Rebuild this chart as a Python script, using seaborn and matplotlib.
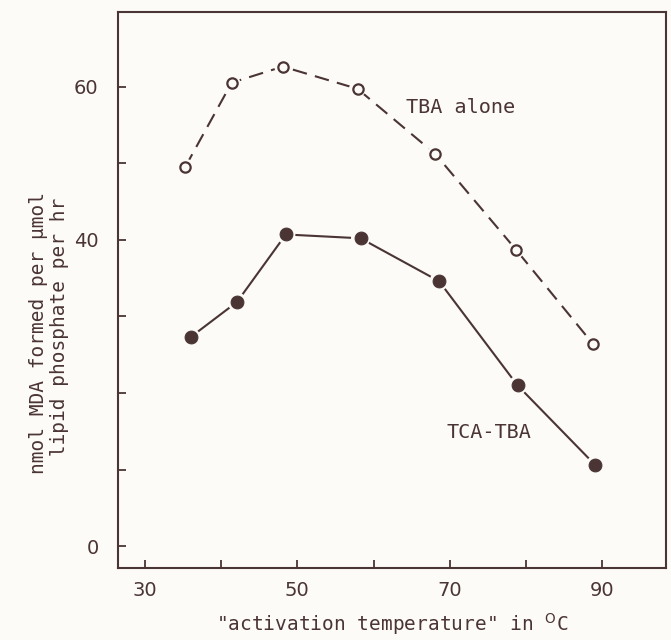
import matplotlib
matplotlib.use("Agg")
import matplotlib.pyplot as plt
import seaborn as sns
import pandas as pd

# Data
tba_temp = [35.3, 41.4, 48.1, 57.9, 68.1, 78.7, 88.8]
tba_alone = [49.5, 60.5, 62.6, 59.7, 51.2, 38.7, 26.4]
tca_temp = [36.0, 42.1, 48.5, 58.3, 68.6, 78.9, 89.1]
tca_tba = [27.3, 31.9, 40.7, 40.2, 34.6, 21.0, 10.6]

x_ticks = [30, 40, 50, 60, 70, 80, 90]
x_ticklabels = ["30", "", "50", "", "70", "", "90"]
y_ticks = [0, 10, 20, 30, 40, 50, 60]
y_ticklabels = ["0", "", "", "", "40", "", "60"]

ink = "#4a3434"
paper = "#fcfbf7"

sns.set_theme(style="white")
plt.rcParams["font.family"] = ["DejaVu Sans"]

fig = plt.figure(figsize=(6.71, 6.40), dpi=100, facecolor=paper)
ax = fig.add_axes([0.176, 0.112, 0.817, 0.869])
ax.set_facecolor(paper)

df_tba = pd.DataFrame({"t": tba_temp, "v": tba_alone})
df_tca = pd.DataFrame({"t": tca_temp, "v": tca_tba})

# connecting lines
sns.lineplot(data=df_tba, x="t", y="v", ax=ax, color=ink, lw=1.5,
             linestyle=(0, (7, 4)), sort=False, zorder=2)
sns.lineplot(data=df_tca, x="t", y="v", ax=ax, color=ink, lw=1.5,
             sort=False, zorder=2)
# halos leaving a small gap between lines and markers
sns.scatterplot(data=df_tba, x="t", y="v", ax=ax, s=150, color=paper,
                edgecolor="none", zorder=3)
sns.scatterplot(data=df_tca, x="t", y="v", ax=ax, s=190, color=paper,
                edgecolor="none", zorder=3)
# markers
sns.scatterplot(data=df_tba, x="t", y="v", ax=ax, s=55, facecolor=paper,
                edgecolor=ink, linewidth=1.6, zorder=4)
sns.scatterplot(data=df_tca, x="t", y="v", ax=ax, s=85, color=ink,
                edgecolor=ink, zorder=4)

ax.set_xlim(26.5, 98.4)
ax.set_ylim(-2.85, 69.7)

ax.set_xticks(x_ticks)
ax.set_xticklabels(x_ticklabels)
ax.set_yticks(y_ticks)
ax.set_yticklabels(y_ticklabels)
ax.tick_params(axis="both", direction="in", length=6, width=1.3, color=ink,
               labelcolor=ink, labelsize=14)
ax.tick_params(axis="y", pad=14)
ax.tick_params(axis="x", pad=9)
ax.xaxis.set_ticks_position("bottom")
ax.yaxis.set_ticks_position("left")
for sp in ax.spines.values():
    sp.set_color(ink)
    sp.set_linewidth(1.5)

mono = "DejaVu Sans Mono"
ax.set_xlabel('"activation temperature" in $^{\\mathrm{O}}$C', family=mono,
              fontsize=14, color=ink, labelpad=8)
ax.set_ylabel("nmol MDA formed per \u03bcmol\n lipid phosphate per hr",
              family=mono, fontsize=14, color=ink, linespacing=1.1)
ax.yaxis.set_label_coords(-0.09, 0.424)

ax.text(64.2, 57.2, "TBA alone", family=mono, fontsize=14.5, color=ink,
        ha="left", va="center")
ax.text(69.6, 14.9, "TCA-TBA", family=mono, fontsize=14.5, color=ink,
        ha="left", va="center")

fig.savefig("out.png", dpi=100, facecolor=paper)
